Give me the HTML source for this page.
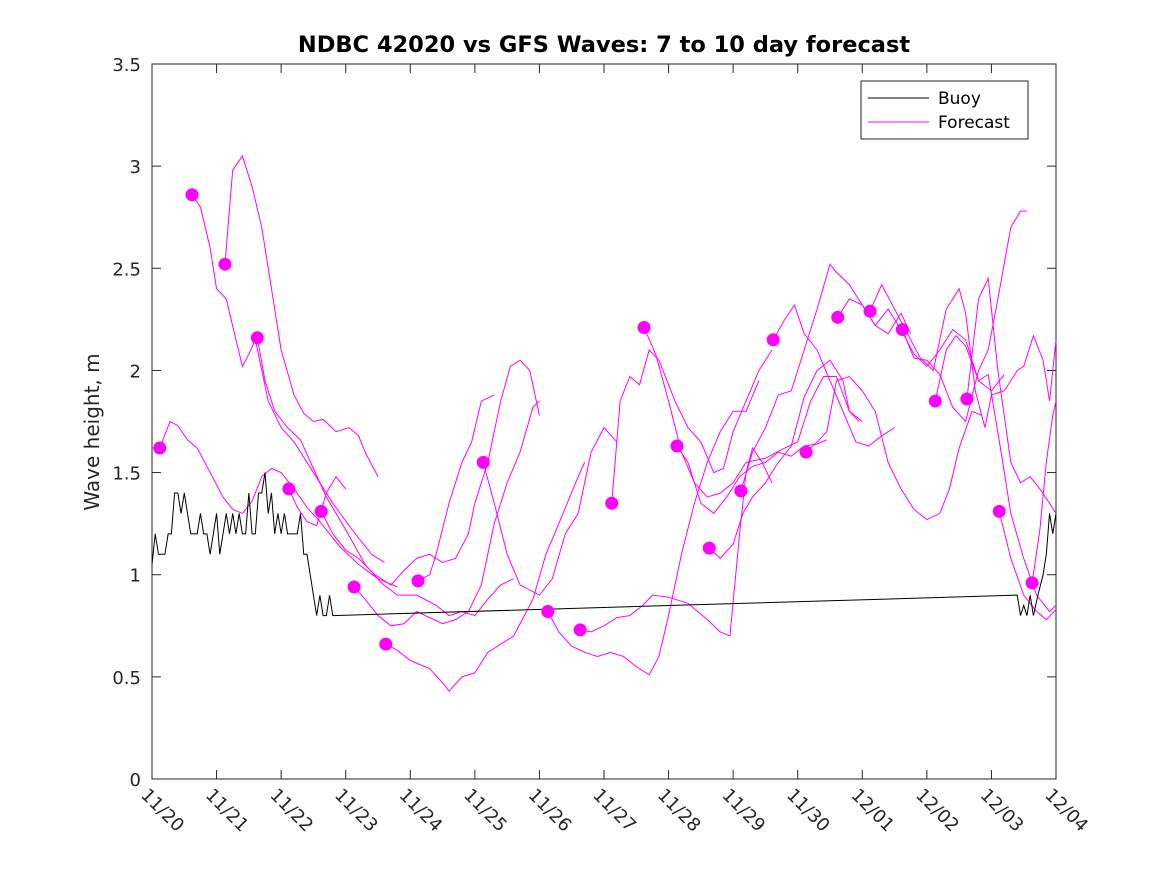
<!DOCTYPE html>
<html><head><meta charset="utf-8"><style>
body{margin:0;background:#fff;}
svg{display:block;font-family:"DejaVu Sans","Liberation Sans",sans-serif;}
</style></head><body>
<svg id="chart" width="1167" height="875" viewBox="0 0 1167 875" xmlns="http://www.w3.org/2000/svg">
<rect x="0" y="0" width="1167" height="875" fill="#fff"/>
<text x="604" y="52" text-anchor="middle" font-size="22.5" font-weight="bold">NDBC 42020 vs GFS Waves: 7 to 10 day forecast</text>
<text transform="translate(99,432) rotate(-90)" text-anchor="middle" font-size="20" fill="#262626">Wave height, m</text>
<g id="plot"></g>
<g id="legend">
<rect x="861" y="81" width="167" height="58" fill="#fff" stroke="#262626" stroke-width="1"/>
<line x1="868" y1="98" x2="929" y2="98" stroke="#000" stroke-width="1"/>
<text x="938" y="104" font-size="17" fill="#000">Buoy</text>
<line x1="868" y1="122" x2="929" y2="122" stroke="#ff00ff" stroke-width="1"/>
<text x="938" y="128" font-size="17" fill="#000">Forecast</text>
</g>
</svg>
<script>
const xTickLabels=["11/20","11/21","11/22","11/23","11/24","11/25","11/26","11/27","11/28","11/29","11/30","12/01","12/02","12/03","12/04"];
const yTicks=[0,0.5,1,1.5,2,2.5,3,3.5];
const yTickLabels=["0","0.5","1","1.5","2","2.5","3","3.5"];
const buoyEarly=[1.05,1.2,1.1,1.1,1.1,1.2,1.2,1.4,1.4,1.3,1.4,1.3,1.2,1.2,1.2,1.3,1.2,1.2,1.1,1.2,1.3,1.1,1.2,1.3,1.2,1.3,1.2,1.3,1.2,1.2,1.4,1.2,1.2,1.4,1.4,1.5,1.3,1.4,1.2,1.3,1.2,1.3,1.2,1.2,1.2,1.2];
const buoyLate=[[2.3,1.3],[2.35,1.1],[2.4,1.1],[2.45,1.0],[2.5,0.9],[2.55,0.8],[2.6,0.9],[2.65,0.8],[2.7,0.8],[2.75,0.9],[2.8,0.8],[13.4,0.9],[13.45,0.8],[13.5,0.85],[13.55,0.8],[13.6,0.9],[13.65,0.8],[13.72,0.9],[13.8,1.0],[13.85,1.1],[13.9,1.3],[13.95,1.2],[14,1.3]];
const dots=[[0.12,1.62],[0.62,2.86],[1.13,2.52],[1.63,2.16],[2.12,1.42],[2.62,1.31],[3.13,0.94],[3.62,0.66],[4.12,0.97],[5.13,1.55],[6.13,0.82],[6.63,0.73],[7.12,1.35],[7.62,2.21],[8.13,1.63],[8.63,1.13],[9.12,1.41],[9.62,2.15],[10.13,1.6],[10.62,2.26],[11.12,2.29],[11.62,2.2],[12.13,1.85],[12.62,1.86],[13.12,1.31],[13.63,0.96]];
const forecasts=[
[[0,1.62],[0.12,1.62],[0.28,1.75],[0.4,1.73],[0.55,1.66],[0.7,1.62],[0.9,1.5],[1.1,1.38],[1.25,1.32],[1.4,1.3],[1.55,1.36],[1.7,1.48],[1.85,1.52],[2.0,1.5],[2.2,1.42],[2.4,1.33],[2.6,1.26],[2.9,1.14],[3.2,1.05],[3.5,0.98],[3.8,0.94]],
[[0.62,2.86],[0.75,2.8],[0.9,2.6],[1.0,2.4],[1.15,2.35],[1.3,2.15],[1.4,2.02],[1.5,2.08],[1.6,2.15],[1.8,1.85],[2.0,1.72],[2.2,1.65],[2.5,1.5],[2.8,1.35],[3.1,1.22],[3.4,1.1],[3.6,1.06]],
[[1.13,2.52],[1.25,2.98],[1.4,3.05],[1.55,2.9],[1.7,2.7],[1.85,2.4],[2.0,2.1],[2.2,1.88],[2.35,1.79],[2.5,1.75],[2.65,1.76],[2.85,1.7],[3.05,1.72],[3.2,1.68],[3.3,1.6],[3.5,1.48]],
[[1.63,2.16],[1.75,1.95],[1.9,1.8],[2.1,1.72],[2.3,1.66],[2.5,1.52],[2.7,1.38],[3.0,1.22],[3.3,1.05],[3.55,0.96],[3.8,0.9],[4.1,0.9],[4.4,0.85],[4.6,0.8],[4.8,0.82],[5.0,0.8],[5.2,0.88],[5.4,0.95],[5.6,0.98]],
[[2.12,1.42],[2.25,1.33],[2.4,1.26],[2.55,1.24],[2.7,1.4],[2.85,1.48],[3.0,1.42]],
[[2.62,1.31],[2.8,1.2],[3.0,1.12],[3.2,1.08],[3.45,1.0],[3.7,0.95],[3.9,1.02],[4.1,1.08],[4.3,1.1],[4.5,1.06],[4.7,1.08],[4.9,1.2],[5.0,1.35],[5.2,1.55],[5.4,1.85],[5.55,2.02],[5.7,2.05],[5.85,2.0],[6.0,1.78]],
[[3.13,0.94],[3.3,0.88],[3.5,0.8],[3.7,0.75],[3.9,0.76],[4.1,0.82],[4.3,0.79],[4.5,0.76],[4.7,0.78],[4.9,0.82],[5.1,0.95],[5.3,1.25],[5.5,1.45],[5.7,1.6],[5.9,1.82],[6.0,1.85]],
[[3.62,0.66],[3.8,0.63],[4.0,0.58],[4.3,0.54],[4.5,0.47],[4.6,0.43],[4.8,0.5],[5.0,0.52],[5.2,0.62],[5.4,0.66],[5.6,0.7],[5.9,0.88],[6.1,1.1],[6.3,1.25],[6.6,1.48],[6.7,1.55]],
[[4.12,0.97],[4.3,1.0],[4.4,1.1],[4.6,1.35],[4.8,1.55],[4.95,1.65],[5.1,1.85],[5.3,1.88]],
[[5.13,1.55],[5.3,1.35],[5.5,1.1],[5.7,0.95],[6.0,0.9],[6.2,0.98],[6.4,1.2],[6.6,1.3],[6.8,1.6],[7.0,1.72],[7.2,1.65]],
[[6.13,0.82],[6.3,0.72],[6.5,0.65],[6.7,0.62],[6.9,0.6],[7.1,0.62],[7.3,0.6],[7.5,0.55],[7.7,0.51],[7.85,0.6],[8.0,0.8],[8.2,1.1],[8.4,1.35],[8.6,1.55],[8.8,1.7],[9.0,1.8],[9.2,1.8],[9.4,1.95]],
[[6.63,0.73],[6.8,0.72],[7.0,0.75],[7.2,0.79],[7.4,0.8],[7.6,0.85],[7.75,0.9],[8.0,0.89],[8.3,0.86],[8.6,0.78],[8.8,0.72],[8.95,0.7],[9.1,1.2],[9.2,1.5],[9.3,1.62],[9.45,1.55],[9.6,1.45]],
[[7.12,1.35],[7.25,1.85],[7.4,1.97],[7.55,1.93],[7.7,2.1],[7.85,2.05],[8.1,1.85],[8.3,1.72],[8.5,1.65],[8.7,1.5],[8.85,1.52],[9.0,1.7],[9.2,1.85],[9.4,2.0],[9.6,2.1]],
[[7.62,2.21],[7.8,2.08],[8.0,1.85],[8.2,1.6],[8.4,1.45],[8.6,1.38],[8.8,1.4],[9.0,1.45],[9.2,1.55],[9.5,1.57],[9.8,1.62],[10.0,1.65],[10.2,1.85],[10.4,1.97],[10.6,1.97],[10.8,1.8],[11.0,1.75]],
[[8.13,1.63],[8.3,1.55],[8.5,1.35],[8.7,1.3],[8.9,1.38],[9.1,1.48],[9.3,1.53],[9.5,1.55],[9.7,1.6],[9.9,1.58],[10.1,1.63],[10.3,1.64],[10.45,1.66]],
[[8.63,1.13],[8.8,1.08],[9.0,1.15],[9.15,1.3],[9.3,1.38],[9.5,1.45],[9.7,1.55],[9.9,1.63],[10.1,1.87],[10.3,2.0],[10.5,2.05],[10.7,1.95],[10.8,1.8],[10.95,1.75]],
[[9.12,1.41],[9.3,1.6],[9.5,1.72],[9.7,1.88],[9.9,1.9],[10.1,2.1],[10.3,2.3],[10.5,2.52],[10.6,2.48],[10.8,2.42],[11.0,2.32],[11.2,2.22],[11.4,2.18],[11.6,2.28],[11.75,2.18]],
[[9.62,2.15],[9.8,2.25],[9.95,2.32],[10.1,2.18],[10.3,2.1],[10.5,1.95],[10.7,1.8],[10.9,1.65],[11.1,1.63],[11.3,1.68],[11.5,1.72]],
[[10.13,1.6],[10.3,1.65],[10.45,1.7],[10.6,1.95],[10.8,1.97],[11.0,1.9],[11.2,1.8],[11.4,1.55],[11.6,1.42],[11.8,1.32],[12.0,1.27],[12.2,1.3],[12.35,1.42],[12.5,1.62],[12.7,1.8],[12.85,1.78]],
[[10.62,2.26],[10.8,2.35],[11.0,2.32],[11.2,2.22],[11.4,2.3],[11.6,2.2],[11.8,2.08],[12.0,2.02],[12.2,2.1],[12.4,2.2],[12.6,2.15],[12.8,1.95],[13.0,1.9],[13.2,1.98]],
[[11.12,2.29],[11.3,2.42],[11.5,2.3],[11.7,2.18],[11.9,2.06],[12.1,2.0],[12.3,2.3],[12.5,2.4],[12.6,2.28],[12.75,1.9],[12.9,1.72],[13.0,1.88],[13.2,1.9],[13.4,2.0],[13.5,2.02],[13.65,2.17],[13.8,2.05],[13.9,1.85],[14,2.15]],
[[11.62,2.2],[11.8,2.06],[12.0,2.05],[12.2,1.98],[12.4,1.82],[12.6,1.75],[12.8,2.0],[12.95,2.1],[13.1,2.35],[13.3,2.7],[13.45,2.78],[13.55,2.78]],
[[12.13,1.85],[12.3,2.1],[12.45,2.17],[12.6,2.12],[12.8,1.95],[12.95,1.98],[13.15,1.6],[13.3,1.3],[13.5,1.08],[13.7,0.9],[13.9,0.82],[14.0,0.85]],
[[12.62,1.86],[12.8,2.35],[12.95,2.45],[13.1,2.0],[13.3,1.55],[13.45,1.45],[13.6,1.48],[13.75,1.42],[13.9,1.35],[14,1.3]],
[[13.12,1.31],[13.3,1.08],[13.5,0.9],[13.7,0.82],[13.85,0.78],[14,0.83]],
[[13.63,0.96],[13.75,1.22],[13.85,1.55],[13.95,1.78],[14,1.85]]
];
const NS="http://www.w3.org/2000/svg";
const L=152,R=1056,T=64,B=779,XMAX=14,YMAX=3.5;
function xs(d){return L+(R-L)*d/XMAX;}
function ys(v){return B-(B-T)*v/YMAX;}
const plot=document.getElementById('plot');
function mk(tag,attrs){const e=document.createElementNS(NS,tag);for(const k in attrs)e.setAttribute(k,attrs[k]);return e;}
const box=mk('rect',{x:L,y:T,width:R-L,height:B-T,fill:'none',stroke:'#262626','stroke-width':1});


plot.appendChild(box);
xTickLabels.forEach((lab,i)=>{
  const x=xs(i);
  const t1=mk('line',{x1:x,y1:B,x2:x,y2:B-9,stroke:'#262626'});
  
  
  plot.appendChild(t1);
  const t2=mk('line',{x1:x,y1:T,x2:x,y2:T+9,stroke:'#262626'});
  
  
  plot.appendChild(t2);
  const tx=mk('text',{transform:`translate(${x-12},${B+17}) rotate(45)`,'font-size':18,fill:'#262626'});
  tx.textContent=lab;
  
  
  plot.appendChild(tx);
});
yTicks.forEach((v,i)=>{
  const y=ys(v);
  const t1=mk('line',{x1:L,y1:y,x2:L+9,y2:y,stroke:'#262626'});
  
  
  plot.appendChild(t1);
  const t2=mk('line',{x1:R,y1:y,x2:R-9,y2:y,stroke:'#262626'});
  
  
  plot.appendChild(t2);
  const tx=mk('text',{x:L-11,y:y+7,'text-anchor':'end','font-size':18,fill:'#262626'});
  tx.textContent=yTickLabels[i];
  
  
  plot.appendChild(tx);
});
forecasts.forEach(s=>{
  const p=mk('polyline',{points:s.map(q=>xs(q[0])+','+ys(q[1])).join(' '),fill:'none',stroke:'#ff00ff','stroke-width':1});
  
  
  plot.appendChild(p);
});
const buoyPts=buoyEarly.map((v,i)=>[i*0.05,v]).concat(buoyLate);
const bl=mk('polyline',{points:buoyPts.map(q=>xs(q[0])+','+ys(q[1])).join(' '),fill:'none',stroke:'#000','stroke-width':1});


plot.appendChild(bl);
dots.forEach(q=>{
  const c=mk('circle',{cx:xs(q[0]),cy:ys(q[1]),r:6.5,fill:'#ff00ff'});
  
  
  plot.appendChild(c);
});
</script>
</body></html>
